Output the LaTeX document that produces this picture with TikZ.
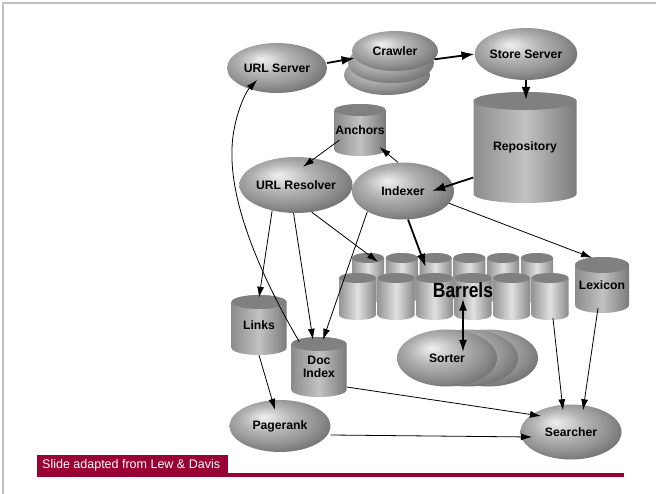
\documentclass[tikz,border=0pt]{standalone}
\usepackage{fontspec}
\setmainfont{Liberation Sans}
\usetikzlibrary{shapes.geometric,arrows.meta}
\pgfdeclareradialshading{gball}{\pgfpoint{-8bp}{9bp}}{color(0bp)=(black!6); color(5bp)=(black!15); color(13bp)=(black!30); color(22bp)=(black!42); color(30bp)=(black!55); color(38bp)=(black!66); color(50bp)=(black!66)}
\definecolor{slidered}{RGB}{153,0,51}
\definecolor{framegray}{RGB}{192,192,192}
\tikzset{
 lbl/.style={font=\fontsize{12.2}{13}\selectfont\bfseries, text=black, align=center},
 oval/.style={ellipse, shading=gball, inner sep=0pt, lbl},
 cylbody/.style={left color=black!45, right color=black!52, middle color=black!24},
 barbody/.style={left color=black!42, right color=black!46, middle color=black!12},
 cyltop/.style={fill=black!50},
 conn/.style={draw, line width=0.8pt, -{Latex[length=11pt,width=7pt]}},
 bigconn/.style={draw, line width=1.8pt, -{Latex[length=13pt,width=9pt]}},
 bigboth/.style={draw, line width=1.8pt, {Latex[length=12pt,width=8pt]}-{Latex[length=12pt,width=8pt]}},
}
% #1 body style, #2 name, #3 cx, #4 ytop, #5 width, #6 height, #7 ry, #8 label
\newcommand\drawcyl[8][cylbody]{%
  \shade[#1] ({#3-#5/2},{-(#4+#7)}) -- ({#3-#5/2},{-(#4+#6-#7)})
    arc[start angle=180,end angle=360,x radius={#5/2},y radius=#7]
    -- ({#3+#5/2},{-(#4+#7)})
    arc[start angle=0,end angle=180,x radius={#5/2},y radius=#7] -- cycle;
  \fill[cyltop] ({#3},{-(#4+#7)}) ellipse[x radius={#5/2},y radius=#7];
  \node[lbl, minimum width=#5, minimum height=#6, inner sep=0pt] (#2) at ({#3},{-(#4+#6/2)}) {#8};
}
\begin{document}
\begin{tikzpicture}[x=1pt,y=1pt]
\useasboundingbox (0,0) rectangle (656,-494);
\fill[white] (0,0) rectangle (656,-494);
% frame
\draw[framegray, line width=1.5pt] (3,-494) -- (3,-3) -- (656,-3);
% footer
\fill[slidered] (37,-455) rectangle (228,-476);
\fill[slidered] (37,-473) rectangle (624,-476.5);
\node[anchor=west, text=white, font=\fontsize{12.5}{13}\selectfont, inner sep=0pt] (footer) at (42,-465.5) {Slide adapted from Lew \& Davis};

% ellipses
\node[oval, minimum width=100, minimum height=50] (urlserver) at (277,-68) {URL Server};
\path[shading=gball] (387,-75) ellipse[x radius=43,y radius=20];
\path[shading=gball] (391,-63) ellipse[x radius=43,y radius=20];
\node[oval, minimum width=86, minimum height=40] (crawler) at (395,-51) {Crawler};
\node[oval, minimum width=102, minimum height=52] (storeserver) at (526,-54) {Store Server};
\node[oval, minimum width=100, minimum height=56] (urlres) at (296,-185) {URL Resolver};
\node[oval, minimum width=102, minimum height=57] (indexer) at (403,-191) {Indexer};
\path[shading=gball] (488,-358) ellipse[x radius=50,y radius=28.5];
\path[shading=gball] (468,-358) ellipse[x radius=50,y radius=28.5];
\node[oval, minimum width=100, minimum height=57] (sorter) at (447,-358) {Sorter};
\node[oval, minimum width=101, minimum height=52] (pagerank) at (280,-426) {Pagerank};
\node[oval, minimum width=101, minimum height=55] (searcher) at (571,-432) {Searcher};

% cylinders
\drawcyl{repository}{525}{92}{103}{111}{9}{Repository}
\drawcyl{anchors}{360}{104}{51}{52}{6}{Anchors}
\drawcyl{links}{259}{295}{55}{60}{7}{Links}
\drawcyl{docindex}{319}{337}{55}{60}{7}{Doc\\Index}
\drawcyl{lexicon}{602}{257}{54}{56}{8}{Lexicon}
% barrels
\foreach \i in {1,...,6} {\drawcyl[barbody]{b\i}{368+(\i-1)*33.8}{253}{32}{50}{5}{}}
\foreach \i in {1,...,6} {\drawcyl[barbody]{f\i}{357.5+(\i-1)*38.5}{273}{37}{47}{5}{}}
\node[font=\fontsize{20.5}{20}\selectfont\bfseries, inner sep=1pt] (barrels) at (463,-290) {\scalebox{0.85}[1]{Barrels}};

% connectors
\draw[bigconn] ([yshift=5]urlserver.east) -- (crawler.190);
\draw[bigconn] (crawler.-12) -- (storeserver.west);
\draw[bigconn] (storeserver.south) -- ([xshift=1,yshift=-8]repository.north);
\draw[bigconn] ([yshift=-30]repository.west) -- ([xshift=-22]indexer.east);
\draw[conn] (indexer.100) -- ([shift={(-6,9)}]anchors.south east);
\draw[conn] ([shift={(5,16)}]anchors.south west) -- ([shift={(7,-10)}]urlres.north);
\draw[conn] (urlres.-60) -- ([shift={(10,-9)}]b1.north);
\draw[conn] (urlres.-133) -- ([yshift=-3]links.north);
\draw[conn] (urlres.-95) -- ([shift={(-6,-3)}]docindex.north);
\draw[conn] (indexer.-150) -- ([shift={(4,-3)}]docindex.north);
\draw[bigconn] (indexer.-80) -- ([shift={(-10,-14)}]b3.north);
\draw[conn] (indexer.-15) -- ([shift={(-10,-1)}]lexicon.north);
\draw[conn] (links.south) -- ([shift={(-5,-10)}]pagerank.north);
\draw[conn] ([yshift=-20]docindex.east) -- ([shift={(-30,16)}]searcher.center);
\draw[conn] ([yshift=-9]pagerank.east) -- ([shift={(-39,-5)}]searcher.center);
\draw[conn] ([shift={(3,2)}]f6.south) -- ([shift={(-8,-6)}]searcher.north);
\draw[conn] ([shift={(-4,5)}]lexicon.south) -- ([shift={(12,-6)}]searcher.north);
\draw[bigboth] (barrels.south) -- ([shift={(16,6)}]sorter.center);
\draw[conn] ([shift={(8,-5)}]docindex.north west) .. controls (262,-278) and (230,-205) .. (232,-150)
   .. controls (232,-125) and (243,-95) .. ([shift={(-20,-12)}]urlserver.center);
\end{tikzpicture}
\end{document}
